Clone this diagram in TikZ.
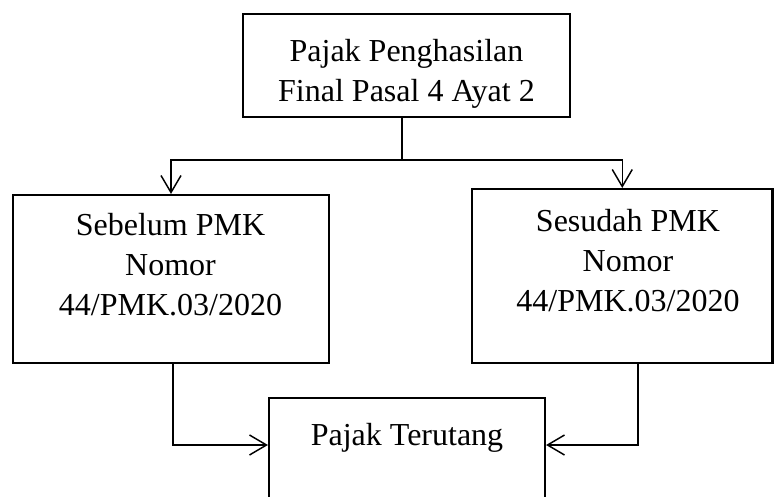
\documentclass[tikz,border=0pt]{standalone}
\usepackage{fontspec}
\setmainfont{Liberation Serif}
\usetikzlibrary{arrows.meta}
\tikzset{
  kotak/.style={draw,line width=1.6pt,inner sep=0pt},
  tulisan/.style={align=center,inner sep=0pt,font=\fontsize{24pt}{30pt}\selectfont},
  panah/.style={line width=1.1pt,-{Straight Barb[length=12.75pt,width=15pt,line width=1.1pt]}},
  garis/.style={line width=1.1pt}
}
\begin{document}
\begin{tikzpicture}[x=0.75pt,y=-0.75pt]
   \useasboundingbox (0,0) rectangle (774,496);
   \node[kotak,minimum width=245.25pt,minimum height=77.25pt] (atas) at (406.5,65.5) {};
   \node[kotak,minimum width=237pt,minimum height=126pt] (kiri) at (171,279) {};
   \node[kotak,minimum width=225.4pt,minimum height=130.5pt] (kanan) at (622.25,276) {};
   \node[kotak,minimum width=207pt,minimum height=91.5pt] (bawah) at (407,459) {};
   \node[tulisan] (atasteks) at (406.5,73.5) {Pajak Penghasilan\\Final Pasal 4 Ayat 2};
   \node[tulisan] (kiriteks) at (170.5,264.8) {Sebelum PMK\\Nomor\\44/PMK.03/2020};
   \node[tulisan] (kananteks) at (628,260.8) {Sesudah PMK\\Nomor\\44/PMK.03/2020};
   \node[tulisan] (bawahteks) at (407,437.5) {Pajak Terutang};
   \coordinate (cabang) at (402,160);
   \coordinate (belokkiri) at (173,445);
   \coordinate (belokkanan) at (638,445);
   \draw[garis] (atas.south -| cabang) -- (cabang);
   \draw[panah] (cabang) -| (kiri.north);
   \draw[panah] (cabang) -| (kanan.north);
   \draw[panah] (kiri.south -| belokkiri) |- (belokkiri -| bawah.west);
   \draw[panah] (kanan.south -| belokkanan) |- (belokkanan -| bawah.east);
\end{tikzpicture}
\end{document}
